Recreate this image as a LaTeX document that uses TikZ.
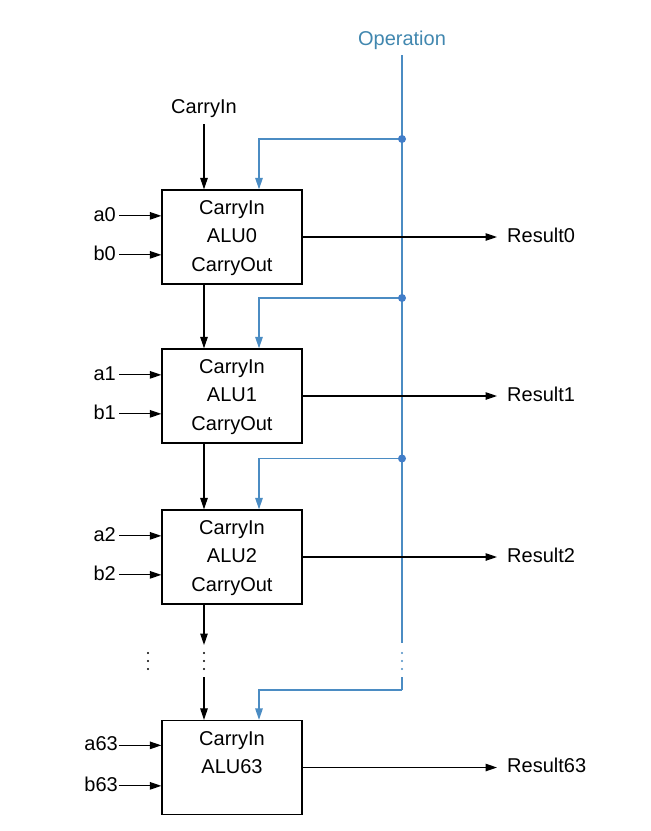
\documentclass[tikz,border=0pt]{standalone}
\usepackage{fontspec}
\setmainfont{Liberation Sans}
\usetikzlibrary{arrows.meta,calc}
\definecolor{opline}{RGB}{75,140,195}
\definecolor{opdot}{RGB}{65,125,200}
\definecolor{optext}{RGB}{65,135,175}
\begin{document}
\begin{tikzpicture}[x=1pt,y=-1pt,
  txt/.style={font=\fontsize{20}{24}\selectfont, inner sep=0pt, text height=14.5pt, text depth=4pt},
  alubox/.style={draw, line width=1.3pt, minimum width=140pt, minimum height=94pt, inner sep=0pt},
  arr/.style={line width=1.2pt, -{Triangle[length=11.5pt,width=7.5pt]}},
  oparr/.style={opline, line width=1.5pt, -{Triangle[length=11.5pt,width=7.5pt]}},
  opwire/.style={opline, line width=1.5pt},
  junct/.style={circle, fill=opdot, inner sep=0pt, minimum size=8pt},
  smalldot/.style={circle, inner sep=0pt, minimum size=2.4pt}]
\useasboundingbox (0,0) rectangle (651,831);

% ALU boxes and texts
\foreach \i/\y in {0/237,1/396,2/557,63/767.5}{
  \node[alubox] (alu\i) at (232,\y) {};
  \node[txt] (ci\i) at ($(alu\i.north)+(0,20)$) {CarryIn};
  \node[txt] (nm\i) at ($(alu\i.north)+(0,48)$) {ALU\i};
}
\foreach \i in {0,1,2}{
  \node[txt] (co\i) at ($(alu\i.north)+(0,77)$) {CarryOut};
}

% a / b inputs
\foreach \i in {0,1,2}{
  \node[txt, anchor=east, inner xsep=3pt] (a\i) at ($(alu\i.north)+(-113,26.5)$) {a\i};
  \node[txt, anchor=east, inner xsep=3pt] (b\i) at ($(alu\i.north)+(-113,65.5)$) {b\i};
}
\node[txt, anchor=east, inner xsep=0.5pt] (a63) at ($(alu63.north)+(-113.5,25.5)$) {a63};
\node[txt, anchor=east, inner xsep=0.5pt] (b63) at ($(alu63.north)+(-113.5,66)$) {b63};

% results
\foreach \i in {0,1,2,63}{
  \node[txt, anchor=west, inner xsep=10pt] (r\i) at ($(alu\i.center)+(265,0)$) {Result\i};
}

% Operation bus
\node[txt, text=optext] (op) at (402,40) {Operation};
\coordinate (j0) at (402,139);
\coordinate (j1) at (402,298);
\coordinate (j2) at (402,458.5);
\coordinate (opgap1) at (402,643);
\coordinate (opgap2) at (402,677);
\coordinate (opcorner) at (402,690);
\coordinate (bx) at (259,0);
\draw[opwire, shorten <=6pt] (op.south) -- (opgap1);
\draw[opwire] (opgap2) -- (opcorner);
\draw[oparr] (j0) -| (bx |- alu0.north);
\draw[oparr] (j1) -| (bx |- alu1.north);
\draw[oparr] (j2) -| (bx |- alu2.north);
\draw[oparr] (opcorner) -| (bx |- alu63.north);
\foreach \k in {0,1,2}{
  \node[junct] (jd\k) at (j\k) {};
}
\foreach \k/\yy in {1/653,2/661,3/669}{
  \node[smalldot, fill=opline] (od\k) at (402,\yy) {};
  \node[smalldot, fill=black] (cd\k) at (204,\yy) {};
  \node[smalldot, fill=black] (ld\k) at (148,\yy) {};
}

% inputs arrows
\foreach \i in {0,1,2,63}{
  \draw[arr] (a\i.east) -- (a\i.east -| alu\i.west);
  \draw[arr] (b\i.east) -- (b\i.east -| alu\i.west);
  \draw[arr] (alu\i.east) -- (r\i.west);
}

% carry chain
\node[txt] (cin) at (204,108) {CarryIn};
\coordinate (cgap1) at (204,645);
\coordinate (cgap2) at (204,677);
\draw[arr, shorten <=7pt] (cin.south) -- (cin.south |- alu0.north);
\draw[arr] (cin.south |- alu0.south) -- (cin.south |- alu1.north);
\draw[arr] (cin.south |- alu1.south) -- (cin.south |- alu2.north);
\draw[arr] (cin.south |- alu2.south) -- (cgap1);
\draw[arr] (cgap2) -- (cin.south |- alu63.north);
\end{tikzpicture}
\end{document}
